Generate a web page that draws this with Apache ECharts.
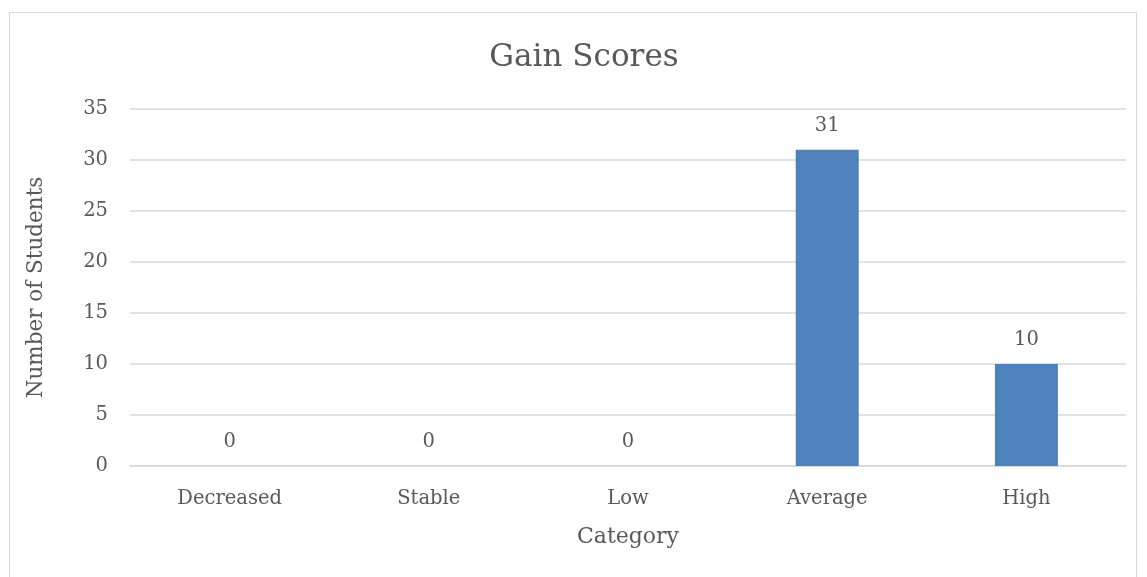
<!DOCTYPE html>
<html>
<head>
<meta charset="utf-8">
<script src="https://cdn.jsdelivr.net/npm/echarts@6/dist/echarts.min.js"></script>
<style>
  html, body { margin: 0; padding: 0; background: #fff; }
  #main { width: 1147px; height: 577px; }
</style>
</head>
<body>
<div id="main"></div>
<script>
// gain score categories and counts
var categories = ['Decreased', 'Stable', 'Low', 'Average', 'High'];
var students = [0, 0, 0, 31, 10];
var yTicks = [0, 5, 10, 15, 20, 25, 30, 35];

var font = 'DejaVu Serif';
var txt = '#595959';

var myChart = echarts.init(document.getElementById('main'));
myChart.setOption({
    backgroundColor: '#fff',
    textStyle: { fontFamily: font },
    title: {
        text: 'Gain Scores',
        left: 579, top: 37,
        textAlign: 'center',
        textStyle: { fontFamily: font, fontSize: 31, fontWeight: 'normal', color: txt }
    },
    graphic: [{
        type: 'rect',
        shape: { x: 9.5, y: 12.5, width: 1127, height: 600 },
        style: { fill: 'none', stroke: '#d9d9d9', lineWidth: 1 },
        silent: true
    }],
    grid: { left: 130, right: 21, top: 109, bottom: 111, containLabel: false },
    xAxis: {
        type: 'category',
        data: categories,
        name: 'Category',
        nameLocation: 'middle',
        nameGap: 60,
        nameTextStyle: { fontFamily: font, fontSize: 22, color: txt },
        axisLine: { lineStyle: { color: '#d9d9d9', width: 1.5 } },
        axisTick: { show: false },
        axisLabel: { fontFamily: font, fontSize: 19.5, color: txt, margin: 23 }
    },
    yAxis: {
        type: 'value',
        min: yTicks[0],
        max: yTicks[yTicks.length - 1],
        interval: 5,
        name: 'Number of Students',
        nameLocation: 'middle',
        nameGap: 83,
        nameTextStyle: { fontFamily: font, fontSize: 21.5, color: txt },
        axisLine: { show: false },
        axisTick: { show: false },
        axisLabel: { fontFamily: font, fontSize: 19.5, color: txt, margin: 22 },
        splitLine: { lineStyle: { color: '#d9d9d9', width: 1.5 } }
    },
    series: [{
        type: 'bar',
        data: students,
        barWidth: 63,
        itemStyle: { color: '#4f81bd' },
        label: {
            show: true,
            position: 'top',
            distance: 14,
            fontFamily: font,
            fontSize: 19.5,
            color: txt
        }
    }]
});
</script>
</body>
</html>
